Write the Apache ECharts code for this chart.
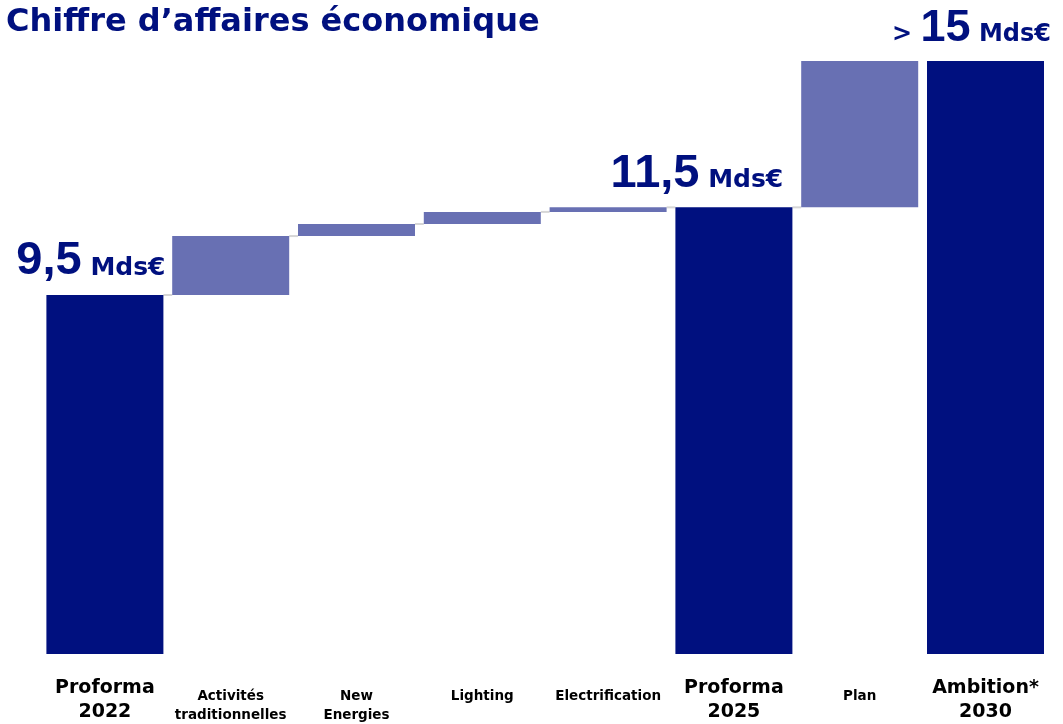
<!DOCTYPE html>
<html><head><meta charset="utf-8">
<script src="https://cdn.jsdelivr.net/npm/echarts@6/dist/echarts.min.js"></script>
<style>html,body{margin:0;padding:0;background:#fff}#c{width:1063px;height:724px}</style>
</head><body><div id="c"></div>
<script>
// ---- data ----
const categories = ['Proforma\n2022', 'Activités\ntraditionnelles', 'New\nEnergies', 'Lighting', 'Electrification', 'Proforma\n2025', 'Plan', 'Ambition*\n2030'];
const isTotal = [true, false, false, false, false, true, false, true];
const totals = [9.5, null, null, null, null, 11.82, null, 15.69];
const deltas = [null, 1.56, 0.32, 0.32, 0.12, null, 3.87, null];
const valueLabels = ['9,5', '', '', '', '', '11,5', '', '15'];
const labelPrefix = ['', '', '', '', '', '', '', '> '];
const unit = 'Mds€';
const titleText = 'Chiffre d’affaires économique';

// ---- styles ----
const DARK = '#00107F';
const LIGHT = '#6870B3';
const CONNECT = '#d6d6d6';
const FONT = 'DejaVu Sans';
const NUM_FONT = 'Liberation Sans';
const BAR_W = 117;
const labelOffsets = [[-14, 0], null, null, null, null, [-37, 0], null, [-14, 0]];
const labelBig = [true, false, false, false, false, true, false, false];

// build waterfall helpers from the data
const base = [];
const levels = [];
let running = 0;
for (let i = 0; i < categories.length; i++) {
  if (isTotal[i]) { base.push(0); running = totals[i]; }
  else { base.push(running); running += deltas[i]; }
  levels.push(running);
}
const connectors = [];
for (let i = 0; i < categories.length - 2; i++) connectors.push([i, levels[i]]);

const totalData = totals.map((v, i) => v == null ? '-' : {
  value: v,
  label: { offset: labelOffsets[i] || [0, 0] }
});

const chart = echarts.init(document.getElementById('c'), null, { renderer: 'canvas' });
chart.setOption({
  animation: false,
  backgroundColor: '#fff',
  title: {
    text: titleText, left: 1, top: 2,
    textStyle: { fontFamily: FONT, fontSize: 32, fontWeight: 'bold', color: DARK }
  },
  grid: { left: 42, right: 14.6, top: 49.4, bottom: 70, outerBoundsMode: 'none' },
  xAxis: [{
    type: 'category', data: categories,
    axisLine: { show: false }, axisTick: { show: false },
    axisLabel: {
      interval: 0, margin: 22, color: '#000', fontFamily: FONT, fontWeight: 'bold',
      fontSize: 19, lineHeight: 24,
      formatter: (v, i) => isTotal[i] ? v : ''
    }
  }, {
    type: 'category', data: categories, position: 'bottom',
    axisLine: { show: false }, axisTick: { show: false },
    axisLabel: {
      interval: 0, margin: 33, color: '#000', fontFamily: FONT, fontWeight: 'bold',
      fontSize: 13.5, lineHeight: 19,
      formatter: (v, i) => isTotal[i] ? '' : v
    }
  }],
  yAxis: { type: 'value', min: 0, max: 16, show: false },
  series: [{
    type: 'bar', stack: 'w', data: base, barWidth: BAR_W,
    itemStyle: { color: 'transparent' }, silent: true
  }, {
    type: 'bar', stack: 'w', data: totalData, barWidth: BAR_W,
    itemStyle: { color: DARK },
    label: {
      show: true, position: 'top', distance: 10,
      fontFamily: FONT, fontSize: 24, fontWeight: 'bold', color: DARK,
      formatter: p => {
        const i = p.dataIndex;
        const n = labelBig[i] ? 'n' : 'm';
        const u = labelBig[i] ? 'u' : 'v';
        return (labelPrefix[i] ? '{' + u + '|' + labelPrefix[i] + '}' : '') + '{' + n + '|' + valueLabels[i] + '}{' + u + '| ' + unit + '}';
      },
      rich: {
        n: { fontFamily: NUM_FONT, fontSize: 47, fontWeight: 'bold', color: DARK, verticalAlign: 'bottom', lineHeight: 50 },
        u: { fontFamily: FONT, fontSize: 25, fontWeight: 'bold', color: DARK, verticalAlign: 'bottom', lineHeight: 50, padding: [0, 0, 4, 0] },
        m: { fontFamily: NUM_FONT, fontSize: 45, fontWeight: 'bold', color: DARK, verticalAlign: 'bottom', lineHeight: 48 },
        v: { fontFamily: FONT, fontSize: 24, fontWeight: 'bold', color: DARK, verticalAlign: 'bottom', lineHeight: 48, padding: [0, 0, 4, 0] }
      }
    }
  }, {
    type: 'bar', stack: 'w', data: deltas.map(v => v == null ? '-' : v), barWidth: BAR_W,
    itemStyle: { color: LIGHT }
  }, {
    type: 'custom', data: connectors, z: 1,
    renderItem: (params, api) => {
      const i = api.value(0), lv = api.value(1);
      const p1 = api.coord([i, lv]);
      const p2 = api.coord([i + 1, lv]);
      const hw = BAR_W / 2;
      return {
        type: 'line',
        shape: { x1: p1[0] + hw, y1: p1[1], x2: p2[0] - hw, y2: p2[1] },
        style: { stroke: CONNECT, lineWidth: 2 }
      };
    }
  }]
});
</script></body></html>
